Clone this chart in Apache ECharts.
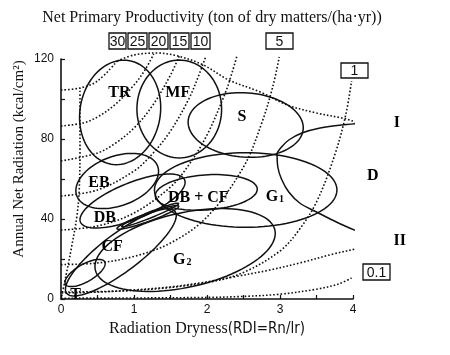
<!DOCTYPE html>
<html>
<head>
<meta charset="utf-8">
<script src="https://cdn.jsdelivr.net/npm/echarts@6/dist/echarts.min.js"></script>
<style>
  html, body { margin: 0; padding: 0; background: #fff; }
  #chart { width: 450px; height: 355px; }
</style>
</head>
<body>
<div id="chart"></div>
<script>
// dotted NPP isolines, [RDI, Rn]
const iso30 = [[0, 104.5], [0.26, 105.5], [0.5, 109], [0.77, 119]];
const iso25 = [[0, 86.5], [0.3, 88], [0.5, 91], [0.75, 97.5], [1.0, 107], [1.15, 114.5], [1.27, 122.5]];
const iso20 = [[0, 69], [0.5, 73], [0.75, 78], [1.0, 85.5], [1.25, 96.5], [1.5, 112], [1.62, 121.5]];
const iso15 = [[0, 51.5], [0.5, 54.5], [1.0, 64], [1.25, 72.5], [1.5, 84], [1.75, 100], [1.9, 113], [1.98, 121]];
const iso10 = [[0, 34.5], [0.5, 36.5], [1.0, 43], [1.5, 56], [1.75, 67], [2.0, 82], [2.25, 103], [2.35, 114], [2.41, 121.5]];
const iso5 = [[0, 17.2], [0.5, 18], [1.0, 21.3], [1.5, 28], [2.0, 41], [2.5, 66], [2.75, 88], [2.9, 106], [2.99, 121]];
const iso1 = [[0, 3.5], [1.0, 4.3], [2.0, 8.2], [2.5, 13.3], [3.0, 24], [3.25, 34], [3.5, 48.5], [3.75, 72], [3.9, 92], [3.98, 109]];
const iso01 = [[0, 0.4], [1.0, 0.5], [2.0, 0.8], [2.5, 1.3], [3.0, 2.4], [3.5, 4.9], [3.8, 7.5], [3.98, 10.5]];
// dotted envelope of the data
const leftEdge = [[0.01, 1.5], [0.07, 12], [0.15, 27], [0.22, 42], [0.25, 55], [0.26, 75], [0.26, 95], [0.26, 105.5]];
const topArc = [[0.77, 119], [1.0, 122], [1.3, 123], [1.6, 121.5], [1.95, 117], [2.3, 109.5], [2.73, 103.5], [3.1, 97], [3.5, 93], [3.85, 90.5], [4.15, 88], [4.45, 88]];
const bottomEdge = [[0.01, 3], [0.53, 3.5], [0.99, 4.5], [1.49, 6], [1.9, 8], [2.36, 11], [2.86, 14.5], [3.27, 18], [3.73, 22.5], [4.1, 25.5], [4.48, 28.5]];
// solid boundary lines I and II
const curveI = [[2.96, 73], [3.02, 76], [3.12, 79.5], [3.3, 83], [3.55, 85.5], [3.85, 87], [4.2, 88], [4.47, 88]];
const curveII = [[2.96, 73], [2.97, 66], [3.02, 60], [3.12, 53.5], [3.27, 48], [3.5, 43.5], [3.8, 38], [4.1, 33.5], [4.47, 31]];

// vegetation zones as ellipses: centre [RDI, Rn], semi axes (RDI units), tilt (deg)
const ellipseCenter = [[0.81, 93.3], [1.62, 95], [2.53, 87], [0.77, 59], [0.98, 49], [1.99, 53.3], [2.53, 54.5], [1.70, 24.5], [0.82, 23.3], [0.33, 13], [1.19, 40.8], [1.22, 42]];
const ellipseAxes = [[0.55, 0.72], [0.58, 0.67], [0.79, 0.44], [0.59, 0.34], [0.77, 0.25], [0.70, 0.24], [1.25, 0.51], [1.26, 0.51], [0.93, 0.26], [0.31, 0.12], [0.45, 0.055], [0.42, 0.04]];
const ellipseTilt = [-10, 0, -4, 20, 22, 4, 0, 12.5, 37, 30, 20, 22];

// zone labels
const zoneLabels = ['TR', 'MF', 'S', 'D', 'EB', 'DB + CF', 'G1', 'DB', 'CF', 'G2', 'T', 'I', 'II'];
const zoneX = [0.8, 1.6, 2.48, 4.27, 0.52, 1.88, 2.93, 0.6, 0.7, 1.66, 0.2, 4.6, 4.64];
const zoneY = [103, 103, 91, 61.5, 58, 50.5, 51, 40.5, 26, 19.5, 2, 88, 29];

// NPP boxes along the top
const boxLabels = ['30', '25', '20', '15', '10', '5', '1', '0.1'];
const boxRects = [[109, 33, 17, 16], [128, 33, 19, 16], [149, 33, 19, 16], [170, 33, 19, 16], [191, 33, 19, 16], [266, 33, 27, 16], [341, 63, 27, 15], [363, 264, 27, 16]];

const chart = echarts.init(document.getElementById('chart'));

const serif = '"Liberation Serif", "Times New Roman", serif';
const sans = '"Liberation Sans", Arial, sans-serif';

const dotted = { color: '#111', width: 1.6, type: [1.6, 2.0] };

const lineSeries = (data, style) => ({
  type: 'line',
  data: data,
  showSymbol: false,
  smooth: 0.35,
  clip: false,
  silent: true,
  lineStyle: style
});

const renderEllipse = (params, api) => {
  const c = api.coord([api.value(0), api.value(1)]);
  const unit = api.size([1, 0])[0];
  const a = api.value(2) * unit;
  const b = api.value(3) * unit;
  const t = api.value(4) * Math.PI / 180;
  const pts = [];
  for (let i = 0; i <= 96; i++) {
    const u = i / 96 * Math.PI * 2;
    const ex = a * Math.cos(u), ey = b * Math.sin(u);
    pts.push([c[0] + ex * Math.cos(t) - ey * Math.sin(t), c[1] - (ex * Math.sin(t) + ey * Math.cos(t))]);
  }
  return {
    type: 'polygon',
    shape: { points: pts },
    style: { fill: 'none', stroke: '#111', lineWidth: 1.5 }
  };
};

const graphics = [
  {
    type: 'text', x: 212, y: 18,
    style: { text: 'Net Primary Productivity (ton of dry matters/(ha\u00b7yr))', font: '16px ' + serif, fill: '#111', textAlign: 'center', textVerticalAlign: 'middle' }
  },
  {
    type: 'text', x: 19, y: 159, rotation: Math.PI / 2,
    style: { text: 'Annual Net Radiation (kcal/cm\u00b2)', font: '15px ' + serif, fill: '#111', textAlign: 'center', textVerticalAlign: 'middle' }
  }
];
boxLabels.forEach((lab, i) => {
  const r = boxRects[i];
  graphics.push({
    type: 'rect', shape: { x: r[0], y: r[1], width: r[2], height: r[3] },
    style: { fill: '#fff', stroke: '#111', lineWidth: 1.3 }
  });
  graphics.push({
    type: 'text', x: r[0] + r[2] / 2, y: r[1] + r[3] / 2 + 1,
    style: { text: lab, font: '14px ' + sans, fill: '#111', textAlign: 'center', textVerticalAlign: 'middle' }
  });
});

const option = {
  animation: false,
  backgroundColor: '#fff',
  grid: { left: 61, right: 97, top: 59, bottom: 56 },
  xAxis: {
    type: 'value',
    min: 0, max: 4, interval: 0.5,
    name: '{a|Radiation Dryness}{b|(RDI=Rn/lr)}',
    nameLocation: 'middle',
    nameGap: 21,
    nameTextStyle: {
      rich: {
        a: { fontFamily: serif, fontSize: 16, color: '#111' },
        b: { fontFamily: '"Liberation Sans Narrow", "DejaVu Sans Condensed", sans-serif', fontSize: 15, color: '#111' }
      }
    },
    axisLine: { lineStyle: { color: '#111', width: 1.6 } },
    axisTick: { inside: true, length: 4, lineStyle: { color: '#111', width: 1.2 } },
    axisLabel: {
      margin: 5, color: '#111', fontFamily: sans, fontSize: 12,
      formatter: v => (Number.isInteger(v) ? String(v) : '')
    },
    splitLine: { show: false }
  },
  yAxis: {
    type: 'value',
    min: 0, max: 120, interval: 20,
    axisLine: { show: true, lineStyle: { color: '#111', width: 1.6 } },
    axisTick: { show: true, inside: true, length: 4, lineStyle: { color: '#111', width: 1.2 } },
    axisLabel: {
      margin: 7, color: '#111', fontFamily: sans, fontSize: 12,
      formatter: v => (v % 40 === 0 ? String(v) : '')
    },
    splitLine: { show: false }
  },
  graphic: graphics,
  series: [
    ...[iso30, iso25, iso20, iso15, iso10, iso5, iso1, iso01, leftEdge, topArc, bottomEdge].map(d => lineSeries(d, dotted)),
    ...[curveI, curveII].map(d => lineSeries(d, { color: '#111', width: 1.5, type: 'solid' })),
    {
      type: 'custom',
      silent: true,
      clip: false,
      renderItem: renderEllipse,
      data: ellipseCenter.map((c, i) => [c[0], c[1], ellipseAxes[i][0], ellipseAxes[i][1], ellipseTilt[i]])
    },
    {
      type: 'scatter',
      silent: true,
      clip: false,
      symbolSize: 1,
      itemStyle: { color: 'rgba(0,0,0,0)', opacity: 1 },
      data: zoneLabels.map((n, i) => [zoneX[i], zoneY[i]]),
      label: {
        show: true,
        position: 'inside',
        opacity: 1,
        textBorderWidth: 0,
        fontFamily: serif,
        fontSize: 16,
        fontWeight: 'bold',
        color: '#000',
        formatter: p => {
          const n = zoneLabels[p.dataIndex];
          if (n === 'G1' || n === 'G2') return '{m|G}{s|' + n.slice(1) + '}';
          return n;
        },
        rich: {
          m: { fontFamily: serif, fontSize: 16, fontWeight: 'bold', color: '#000' },
          s: { fontFamily: serif, fontSize: 10, color: '#000', padding: [5, 0, 0, 1] }
        }
      }
    }
  ]
};

chart.setOption(option);
</script>
</body>
</html>
